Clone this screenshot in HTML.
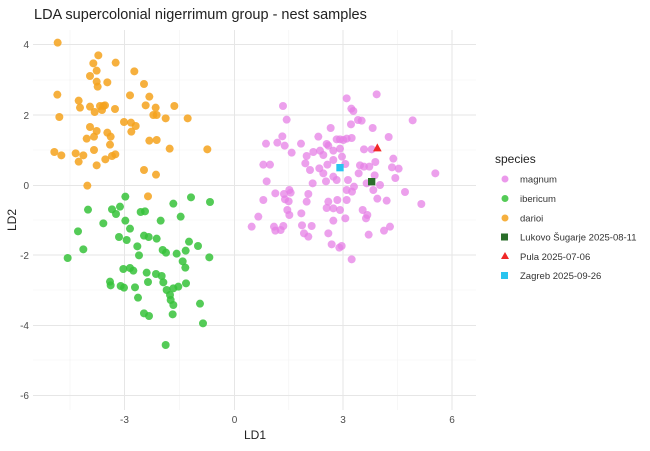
<!DOCTYPE html>
<html><head><meta charset="utf-8"><style>
html,body{margin:0;padding:0;background:#fff;}
svg text{font-family:"Liberation Sans",sans-serif;}
</style></head><body>
<svg width="650" height="446" viewBox="0 0 650 446" xmlns="http://www.w3.org/2000/svg">
<rect width="650" height="446" fill="#fff"/>
<g stroke="#f2f2f2" stroke-width="0.6">
<line x1="70" y1="30" x2="70" y2="410"/><line x1="179.5" y1="30" x2="179.5" y2="410"/><line x1="288.8" y1="30" x2="288.8" y2="410"/><line x1="397.5" y1="30" x2="397.5" y2="410"/>
<line x1="33" y1="80" x2="476" y2="80"/><line x1="33" y1="150" x2="476" y2="150"/><line x1="33" y1="220" x2="476" y2="220"/><line x1="33" y1="290" x2="476" y2="290"/><line x1="33" y1="360" x2="476" y2="360"/>
</g>
<g stroke="#e6e6e6" stroke-width="1">
<line x1="124.5" y1="30" x2="124.5" y2="410"/><line x1="234.5" y1="30" x2="234.5" y2="410"/><line x1="343" y1="30" x2="343" y2="410"/><line x1="452" y1="30" x2="452" y2="410"/>
<line x1="33" y1="44.5" x2="476" y2="44.5"/><line x1="33" y1="115" x2="476" y2="115"/><line x1="33" y1="185.5" x2="476" y2="185.5"/><line x1="33" y1="255" x2="476" y2="255"/><line x1="33" y1="325.5" x2="476" y2="325.5"/><line x1="33" y1="395.5" x2="476" y2="395.5"/>
</g>
<g font-size="10" fill="#4d4d4d" text-anchor="end">
<text x="29" y="48">4</text><text x="29" y="119">2</text><text x="29" y="189">0</text><text x="29" y="259">-2</text><text x="29" y="329">-4</text><text x="29" y="399">-6</text>
</g>
<g font-size="10" fill="#4d4d4d" text-anchor="middle">
<text x="124.5" y="423">-3</text><text x="234.5" y="423">0</text><text x="343" y="423">3</text><text x="452" y="423">6</text>
</g>
<text x="255" y="439" font-size="12" fill="#222" text-anchor="middle">LD1</text>
<text x="16" y="220" font-size="12" fill="#222" text-anchor="middle" transform="rotate(-90 16 220)">LD2</text>
<text x="34" y="19" font-size="14.5" fill="#222">LDA supercolonial nigerrimum group - nest samples</text>
<g transform="scale(0.33333)">
<g fill="#f5a21c" fill-opacity="0.85">
<circle cx="173" cy="128" r="12"/><circle cx="295" cy="166" r="12"/><circle cx="280" cy="190" r="12"/><circle cx="347" cy="188" r="12"/><circle cx="270" cy="228" r="12"/><circle cx="290" cy="212" r="12"/><circle cx="403" cy="214" r="12"/><circle cx="322" cy="247" r="12"/><circle cx="290" cy="245" r="12"/><circle cx="293" cy="260" r="12"/><circle cx="432" cy="252" r="12"/><circle cx="172" cy="284" r="12"/><circle cx="390" cy="286" r="12"/><circle cx="448" cy="290" r="12"/><circle cx="236" cy="302" r="12"/><circle cx="240" cy="323" r="12"/><circle cx="270" cy="320" r="12"/><circle cx="300" cy="318" r="12"/><circle cx="310" cy="318" r="12"/><circle cx="315" cy="316" r="12"/><circle cx="306" cy="330" r="12"/><circle cx="284" cy="336" r="12"/><circle cx="345" cy="327" r="12"/><circle cx="437" cy="316" r="12"/><circle cx="467" cy="323" r="12"/><circle cx="523" cy="318" r="12"/><circle cx="178" cy="351" r="12"/><circle cx="372" cy="366" r="12"/><circle cx="393" cy="368" r="12"/><circle cx="407" cy="378" r="12"/><circle cx="460" cy="345" r="12"/><circle cx="470" cy="345" r="12"/><circle cx="497" cy="355" r="12"/><circle cx="563" cy="355" r="12"/><circle cx="270" cy="381" r="12"/><circle cx="290" cy="393" r="12"/><circle cx="322" cy="398" r="12"/><circle cx="332" cy="410" r="12"/><circle cx="394" cy="395" r="12"/><circle cx="260" cy="416" r="12"/><circle cx="282" cy="410" r="12"/><circle cx="330" cy="434" r="12"/><circle cx="448" cy="422" r="12"/><circle cx="470" cy="420" r="12"/><circle cx="509" cy="446" r="12"/><circle cx="622" cy="448" r="12"/><circle cx="163" cy="456" r="12"/><circle cx="184" cy="466" r="12"/><circle cx="227" cy="460" r="12"/><circle cx="250" cy="466" r="12"/><circle cx="282" cy="450" r="12"/><circle cx="316" cy="478" r="12"/><circle cx="336" cy="468" r="12"/><circle cx="346" cy="463" r="12"/><circle cx="236" cy="485" r="12"/><circle cx="290" cy="496" r="12"/><circle cx="432" cy="510" r="12"/><circle cx="468" cy="524" r="12"/><circle cx="262" cy="557" r="12"/><circle cx="444" cy="589" r="12"/>
</g>
<g fill="#36c23a" fill-opacity="0.85">
<circle cx="376" cy="590" r="12"/><circle cx="573" cy="592" r="12"/><circle cx="630" cy="606" r="12"/><circle cx="520" cy="611" r="12"/><circle cx="264" cy="629" r="12"/><circle cx="336" cy="628" r="12"/><circle cx="348" cy="642" r="12"/><circle cx="360" cy="620" r="12"/><circle cx="422" cy="636" r="12"/><circle cx="435" cy="634" r="12"/><circle cx="542" cy="650" r="12"/><circle cx="482" cy="662" r="12"/><circle cx="310" cy="670" r="12"/><circle cx="376" cy="662" r="12"/><circle cx="390" cy="686" r="12"/><circle cx="234" cy="694" r="12"/><circle cx="357" cy="711" r="12"/><circle cx="380" cy="720" r="12"/><circle cx="432" cy="707" r="12"/><circle cx="446" cy="711" r="12"/><circle cx="470" cy="716" r="12"/><circle cx="567" cy="725" r="12"/><circle cx="594" cy="738" r="12"/><circle cx="250" cy="748" r="12"/><circle cx="412" cy="739" r="12"/><circle cx="488" cy="750" r="12"/><circle cx="498" cy="758" r="12"/><circle cx="530" cy="761" r="12"/><circle cx="557" cy="752" r="12"/><circle cx="203" cy="774" r="12"/><circle cx="417" cy="766" r="12"/><circle cx="628" cy="772" r="12"/><circle cx="548" cy="784" r="12"/><circle cx="556" cy="803" r="12"/><circle cx="370" cy="807" r="12"/><circle cx="390" cy="804" r="12"/><circle cx="400" cy="812" r="12"/><circle cx="440" cy="818" r="12"/><circle cx="468" cy="822" r="12"/><circle cx="485" cy="828" r="12"/><circle cx="330" cy="845" r="12"/><circle cx="444" cy="846" r="12"/><circle cx="490" cy="847" r="12"/><circle cx="558" cy="850" r="12"/><circle cx="332" cy="856" r="12"/><circle cx="362" cy="858" r="12"/><circle cx="372" cy="863" r="12"/><circle cx="405" cy="862" r="12"/><circle cx="500" cy="870" r="12"/><circle cx="520" cy="865" r="12"/><circle cx="535" cy="860" r="12"/><circle cx="414" cy="893" r="12"/><circle cx="510" cy="885" r="12"/><circle cx="512" cy="900" r="12"/><circle cx="520" cy="915" r="12"/><circle cx="600" cy="911" r="12"/><circle cx="432" cy="940" r="12"/><circle cx="447" cy="948" r="12"/><circle cx="518" cy="943" r="12"/><circle cx="609" cy="970" r="12"/><circle cx="497" cy="1035" r="12"/>
</g>
<g fill="#e680e6" fill-opacity="0.75">
<circle cx="1130" cy="283" r="12"/><circle cx="1040" cy="295" r="12"/><circle cx="849" cy="318" r="12"/><circle cx="1054" cy="326" r="12"/><circle cx="1060" cy="333" r="12"/><circle cx="860" cy="359" r="12"/><circle cx="1238" cy="361" r="12"/><circle cx="1074" cy="360" r="12"/><circle cx="1085" cy="362" r="12"/><circle cx="1053" cy="373" r="12"/><circle cx="992" cy="384" r="12"/><circle cx="1118" cy="384" r="12"/><circle cx="847" cy="409" r="12"/><circle cx="955" cy="410" r="12"/><circle cx="1166" cy="411" r="12"/><circle cx="1010" cy="418" r="12"/><circle cx="1020" cy="418" r="12"/><circle cx="1040" cy="416" r="12"/><circle cx="1055" cy="414" r="12"/><circle cx="798" cy="431" r="12"/><circle cx="832" cy="428" r="12"/><circle cx="854" cy="437" r="12"/><circle cx="903" cy="431" r="12"/><circle cx="980" cy="432" r="12"/><circle cx="985" cy="437" r="12"/><circle cx="1030" cy="420" r="12"/><circle cx="875" cy="458" r="12"/><circle cx="940" cy="456" r="12"/><circle cx="960" cy="452" r="12"/><circle cx="1000" cy="452" r="12"/><circle cx="1020" cy="446" r="12"/><circle cx="1092" cy="448" r="12"/><circle cx="1115" cy="448" r="12"/><circle cx="920" cy="468" r="12"/><circle cx="970" cy="465" r="12"/><circle cx="1026" cy="470" r="12"/><circle cx="1126" cy="486" r="12"/><circle cx="1180" cy="476" r="12"/><circle cx="916" cy="490" r="12"/><circle cx="1000" cy="480" r="12"/><circle cx="982" cy="494" r="12"/><circle cx="1036" cy="492" r="12"/><circle cx="1080" cy="496" r="12"/><circle cx="1092" cy="500" r="12"/><circle cx="1108" cy="500" r="12"/><circle cx="1176" cy="502" r="12"/><circle cx="1196" cy="506" r="12"/><circle cx="790" cy="494" r="12"/><circle cx="810" cy="494" r="12"/><circle cx="930" cy="510" r="12"/><circle cx="970" cy="520" r="12"/><circle cx="1076" cy="520" r="12"/><circle cx="1124" cy="526" r="12"/><circle cx="1186" cy="534" r="12"/><circle cx="1306" cy="520" r="12"/><circle cx="800" cy="544" r="12"/><circle cx="938" cy="550" r="12"/><circle cx="978" cy="544" r="12"/><circle cx="1000" cy="530" r="12"/><circle cx="1010" cy="540" r="12"/><circle cx="1044" cy="540" r="12"/><circle cx="1062" cy="560" r="12"/><circle cx="1100" cy="550" r="12"/><circle cx="1140" cy="555" r="12"/><circle cx="1120" cy="570" r="12"/><circle cx="826" cy="580" r="12"/><circle cx="852" cy="582" r="12"/><circle cx="872" cy="578" r="12"/><circle cx="925" cy="582" r="12"/><circle cx="1040" cy="570" r="12"/><circle cx="1056" cy="575" r="12"/><circle cx="1215" cy="576" r="12"/><circle cx="855" cy="598" r="12"/><circle cx="866" cy="604" r="12"/><circle cx="920" cy="605" r="12"/><circle cx="985" cy="605" r="12"/><circle cx="1012" cy="600" r="12"/><circle cx="1040" cy="600" r="12"/><circle cx="1132" cy="596" r="12"/><circle cx="1160" cy="602" r="12"/><circle cx="1264" cy="612" r="12"/><circle cx="790" cy="600" r="12"/><circle cx="980" cy="624" r="12"/><circle cx="1000" cy="625" r="12"/><circle cx="1020" cy="630" r="12"/><circle cx="862" cy="630" r="12"/><circle cx="868" cy="645" r="12"/><circle cx="904" cy="640" r="12"/><circle cx="1088" cy="630" r="12"/><circle cx="1102" cy="645" r="12"/><circle cx="1098" cy="655" r="12"/><circle cx="775" cy="650" r="12"/><circle cx="1036" cy="655" r="12"/><circle cx="1000" cy="662" r="12"/><circle cx="755" cy="680" r="12"/><circle cx="822" cy="680" r="12"/><circle cx="826" cy="692" r="12"/><circle cx="842" cy="690" r="12"/><circle cx="850" cy="678" r="12"/><circle cx="906" cy="676" r="12"/><circle cx="935" cy="678" r="12"/><circle cx="912" cy="700" r="12"/><circle cx="925" cy="710" r="12"/><circle cx="1152" cy="692" r="12"/><circle cx="1170" cy="680" r="12"/><circle cx="985" cy="700" r="12"/><circle cx="1106" cy="704" r="12"/><circle cx="995" cy="733" r="12"/><circle cx="1018" cy="743" r="12"/><circle cx="1025" cy="738" r="12"/><circle cx="1055" cy="778" r="12"/><circle cx="868" cy="570" r="12"/><circle cx="958" cy="505" r="12"/>
</g>
<rect x="1009" y="492" width="22" height="22" fill="#29c4ef"/>
<rect x="1104" y="534" width="22" height="22" fill="#2a6e2a"/>
<polygon points="1132,430 1145,454 1119,454" fill="#f02828"/>
</g>
<text x="495" y="163" font-size="12" fill="#222">species</text>
<g font-size="9.5" fill="#333">
<circle cx="505" cy="179" r="3.5" fill="#e680e6" fill-opacity="0.8"/><text x="520" y="182.5">magnum</text>
<circle cx="505" cy="198.5" r="3.5" fill="#36c23a" fill-opacity="0.85"/><text x="520" y="202">ibericum</text>
<circle cx="505" cy="218" r="3.5" fill="#f5a21c" fill-opacity="0.85"/><text x="520" y="221.5">darioi</text>
<rect x="501" y="233.5" width="7" height="7" fill="#2a6e2a"/><text x="520" y="240.5">Lukovo Šugarje 2025-08-11</text>
<polygon points="505,252 509,259 501,259" fill="#f02828"/><text x="520" y="260">Pula 2025-07-06</text>
<rect x="501" y="272" width="7" height="7" fill="#29c4ef"/><text x="520" y="279">Zagreb  2025-09-26</text>
</g>
</svg>
</body></html>
